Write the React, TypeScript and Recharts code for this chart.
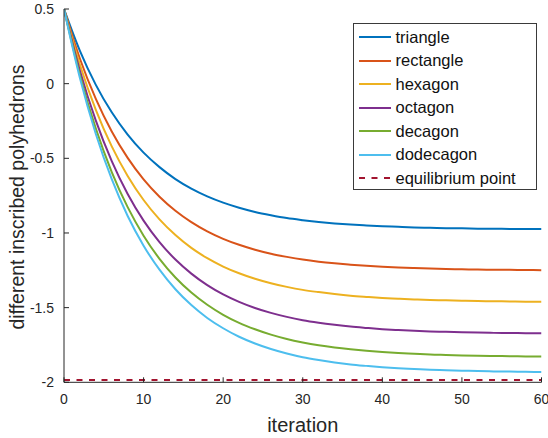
import React from "react";
import { Line, LineChart, XAxis, YAxis } from "recharts";

// iterations sampled every 2 steps
const ITERATIONS = [
  0, 2, 4, 6, 8, 10, 12, 14, 16, 18, 20, 22, 24, 26, 28, 30, 32, 34, 36, 38,
  40, 42, 44, 46, 48, 50, 52, 54, 56, 58, 60,
];

const TRIANGLE = [
  0.5, 0.22, -0.008, -0.192, -0.341, -0.462, -0.559, -0.639, -0.703, -0.755,
  -0.797, -0.831, -0.859, -0.881, -0.9, -0.914, -0.926, -0.936, -0.944, -0.95,
  -0.955, -0.959, -0.963, -0.965, -0.968, -0.969, -0.971, -0.972, -0.973,
  -0.974, -0.974,
];

const RECTANGLE = [
  0.5, 0.167, -0.102, -0.32, -0.497, -0.641, -0.757, -0.851, -0.927, -0.989,
  -1.039, -1.079, -1.112, -1.139, -1.16, -1.178, -1.192, -1.203, -1.212, -1.22,
  -1.226, -1.231, -1.235, -1.238, -1.241, -1.243, -1.245, -1.246, -1.247,
  -1.248, -1.249,
];

const HEXAGON = [
  0.5, 0.127, -0.175, -0.42, -0.618, -0.779, -0.909, -1.014, -1.1, -1.169,
  -1.225, -1.27, -1.307, -1.337, -1.361, -1.381, -1.396, -1.409, -1.42, -1.428,
  -1.435, -1.44, -1.445, -1.449, -1.451, -1.454, -1.456, -1.457, -1.459, -1.46,
  -1.46,
];

const OCTAGON = [
  0.5, 0.087, -0.248, -0.519, -0.739, -0.917, -1.061, -1.178, -1.272, -1.349,
  -1.411, -1.461, -1.502, -1.535, -1.562, -1.584, -1.601, -1.615, -1.627,
  -1.636, -1.644, -1.65, -1.655, -1.659, -1.662, -1.665, -1.667, -1.669, -1.67,
  -1.671, -1.672,
];

const DECAGON = [
  0.5, 0.057, -0.301, -0.592, -0.827, -1.018, -1.173, -1.298, -1.399, -1.481,
  -1.548, -1.602, -1.645, -1.681, -1.71, -1.733, -1.752, -1.767, -1.779,
  -1.789, -1.797, -1.804, -1.809, -1.814, -1.817, -1.82, -1.822, -1.824,
  -1.825, -1.827, -1.828,
];

const DODECAGON = [
  0.5, 0.038, -0.337, -0.64, -0.886, -1.085, -1.246, -1.377, -1.483, -1.569,
  -1.638, -1.695, -1.74, -1.777, -1.807, -1.832, -1.851, -1.867, -1.88, -1.89,
  -1.899, -1.906, -1.911, -1.916, -1.919, -1.922, -1.925, -1.927, -1.928, -1.93,
  -1.931,
];

const EQUILIBRIUM = -1.985;

const X_TICKS = [0, 10, 20, 30, 40, 50, 60];
const Y_TICKS = [-2, -1.5, -1, -0.5, 0, 0.5];

const SERIES = [
  { key: "triangle", name: "triangle", color: "#0072BD", values: TRIANGLE },
  { key: "rectangle", name: "rectangle", color: "#D95319", values: RECTANGLE },
  { key: "hexagon", name: "hexagon", color: "#EDB120", values: HEXAGON },
  { key: "octagon", name: "octagon", color: "#7E2F8E", values: OCTAGON },
  { key: "decagon", name: "decagon", color: "#77AC30", values: DECAGON },
  { key: "dodecagon", name: "dodecagon", color: "#4DBEEE", values: DODECAGON },
];

const EQ_COLOR = "#A2142F";
const EQ_DASH = "6 6.5";

const FONT = "'Liberation Sans', Arial, Helvetica, sans-serif";
const INK = "#262626";

const data = ITERATIONS.map((t, i) => {
  const row: Record<string, number> = { iteration: t, equilibrium: EQUILIBRIUM };
  SERIES.forEach((s) => {
    row[s.key] = s.values[i];
  });
  return row;
});

const tickStyle = { fontSize: 14, fill: INK, fontFamily: FONT };
const axisLine = { stroke: INK, strokeWidth: 1 };
const blank = () => "";

function YTitle() {
  return (
    <text
      x={23.5}
      y={197}
      transform="rotate(-90, 23.5, 197)"
      textAnchor="middle"
      fontSize={19.5}
      fill={INK}
      fontFamily={FONT}
    >
      different inscribed polyhedrons
    </text>
  );
}

function LegendBox() {
  const entries = [
    ...SERIES.map((s) => ({ name: s.name, color: s.color, dash: undefined })),
    { name: "equilibrium point", color: EQ_COLOR, dash: EQ_DASH },
  ];
  return (
    <div
      style={{
        position: "absolute",
        left: 353,
        top: 23,
        width: 184,
        height: 167,
        boxSizing: "border-box",
        border: "1px solid #3a3a3a",
        background: "#fff",
        paddingTop: 1.5,
        fontFamily: FONT,
        fontSize: 16.5,
        color: "#111",
      }}
    >
      {entries.map((e) => (
        <div
          key={e.name}
          style={{ height: 23.5, display: "flex", alignItems: "center" }}
        >
          <svg width={32} height={4} style={{ marginLeft: 4.5, marginRight: 5 }}>
            <line
              x1={0}
              y1={2}
              x2={32}
              y2={2}
              stroke={e.color}
              strokeWidth={2}
              strokeDasharray={e.dash}
            />
          </svg>
          <span>{e.name}</span>
        </div>
      ))}
    </div>
  );
}

export default function App() {
  return (
    <div style={{ position: "absolute", left: 0, top: 0, width: 548, height: 438, background: "#fff" }}>
      <LineChart
        width={548}
        height={438}
        data={data}
        margin={{ top: 9, right: 6.5, bottom: 6.3, left: 14 }}
      >
        <XAxis
          dataKey="iteration"
          type="number"
          domain={[0, 60]}
          ticks={X_TICKS}
          interval={0}
          height={49.4}
          tickSize={-5}
          tickMargin={17}
          tick={tickStyle}
          tickLine={{ stroke: INK }}
          axisLine={axisLine}
          allowDataOverflow
          label={{
            value: "iteration",
            position: "insideBottom",
            offset: 0,
            fontSize: 20,
            fill: INK,
            fontFamily: FONT,
          }}
        />
        <XAxis
          xAxisId="top"
          orientation="top"
          dataKey="iteration"
          type="number"
          domain={[0, 60]}
          ticks={X_TICKS}
          interval={0}
          height={0}
          tickSize={-5}
          tickFormatter={blank}
          tickLine={{ stroke: INK }}
          axisLine={axisLine}
          allowDataOverflow
        />
        <YAxis
          type="number"
          domain={[-2, 0.5]}
          ticks={Y_TICKS}
          interval={0}
          width={50}
          tickSize={-5}
          tickMargin={15}
          tick={tickStyle}
          tickLine={{ stroke: INK }}
          axisLine={axisLine}
          allowDataOverflow
          label={{ content: YTitle }}
        />
        <YAxis
          yAxisId="right"
          orientation="right"
          type="number"
          domain={[-2, 0.5]}
          ticks={Y_TICKS}
          interval={0}
          width={0}
          tickSize={-5}
          tickFormatter={blank}
          tickLine={{ stroke: INK }}
          axisLine={axisLine}
          allowDataOverflow
        />
        {SERIES.map((s) => (
          <Line
            key={s.key}
            dataKey={s.key}
            name={s.name}
            type="monotone"
            stroke={s.color}
            strokeWidth={2}
            dot={false}
            isAnimationActive={false}
          />
        ))}
        <Line
          dataKey="equilibrium"
          name="equilibrium point"
          type="linear"
          stroke={EQ_COLOR}
          strokeWidth={2}
          strokeDasharray={EQ_DASH}
          dot={false}
          isAnimationActive={false}
        />
      </LineChart>
      <LegendBox />
    </div>
  );
}
